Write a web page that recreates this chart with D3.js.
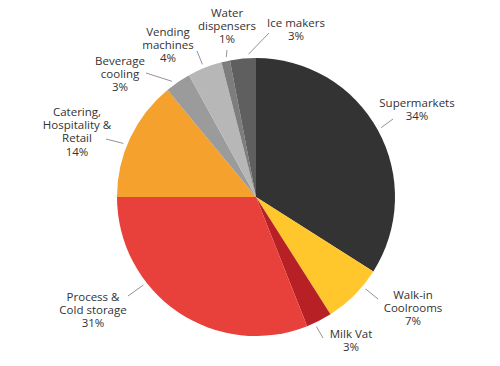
<!DOCTYPE html>
<html>
<head>
<meta charset="utf-8">
<script src="https://cdn.jsdelivr.net/npm/d3@7"></script>
<style>
  html, body { margin: 0; padding: 0; background: #fff; }
  svg { display: block; }
  text { font-family: "Open Sans", sans-serif; font-size: 11.5px; fill: #333; }
</style>
</head>
<body>
<svg id="chart" width="500" height="366"></svg>
<script>
// data, clockwise from 12 o'clock
const categories = [
  ['Supermarkets'],
  ['Walk-in', 'Coolrooms'],
  ['Milk Vat'],
  ['Process &', 'Cold storage'],
  ['Catering,', 'Hospitality &', 'Retail'],
  ['Beverage', 'cooling'],
  ['Vending', 'machines'],
  ['Water', 'dispensers'],
  ['Ice makers']
];
const shares = [34, 7, 3, 31, 14, 3, 4, 1, 3];
const colors = ['#333333', '#ffc72c', '#b72126', '#e8403a', '#f4a22d', '#9b9b9b', '#b7b7b7', '#7d7d7d', '#5f5f5f'];

// label layout: leader start angle (deg), leader end and text centre relative to pie centre
const labelLayout = [
  { a: 61, end: [137, -78], text: [161, -94] },
  { a: 130, end: [122, 102], text: [157, 98] },
  { a: 155, end: [67, 141], text: [95, 137] },
  { a: 232, end: [-128, 99], text: [-163, 100] },
  { a: 292, end: [-150, -58], text: [-179, -85] },
  { a: 324, end: [-110, -124], text: [-136, -136] },
  { a: 338, end: [-59, -146], text: [-88, -165] },
  { a: 348, end: [-29, -147], text: [-29, -184] },
  { a: 357, end: [13, -164], text: [40, -174] }
];

const cx = 256, cy = 197, r = 139;
const svg = d3.select('#chart');
const g = svg.append('g').attr('transform', `translate(${cx},${cy})`);

const pie = d3.pie().sort(null).value(d => d);
const arc = d3.arc().innerRadius(0).outerRadius(r);
const arcs = pie(shares);

g.selectAll('path.slice')
  .data(arcs)
  .join('path')
  .attr('class', 'slice')
  .attr('d', arc)
  .attr('fill', (d, i) => colors[i]);

// leader lines
g.selectAll('line.leader')
  .data(arcs)
  .join('line')
  .attr('class', 'leader')
  .attr('x1', (d, i) => (r + 4) * Math.sin(labelLayout[i].a * Math.PI / 180))
  .attr('y1', (d, i) => -(r + 4) * Math.cos(labelLayout[i].a * Math.PI / 180))
  .attr('x2', (d, i) => labelLayout[i].end[0])
  .attr('y2', (d, i) => labelLayout[i].end[1])
  .attr('stroke', '#777')
  .attr('stroke-width', 0.8);

// labels
const lineH = 13.2;
const labels = g.selectAll('text.label')
  .data(arcs)
  .join('text')
  .attr('class', 'label')
  .attr('text-anchor', 'middle')
  .attr('transform', (d, i) => `translate(${labelLayout[i].text[0]},${labelLayout[i].text[1]})`);

labels.each(function (d, i) {
  const lines = categories[i].concat([shares[i] + '%']);
  const t = d3.select(this);
  lines.forEach((s, k) => {
    t.append('tspan')
      .attr('x', 0)
      .attr('y', k * lineH + 4)
      .text(s);
  });
});
</script>
</body>
</html>
